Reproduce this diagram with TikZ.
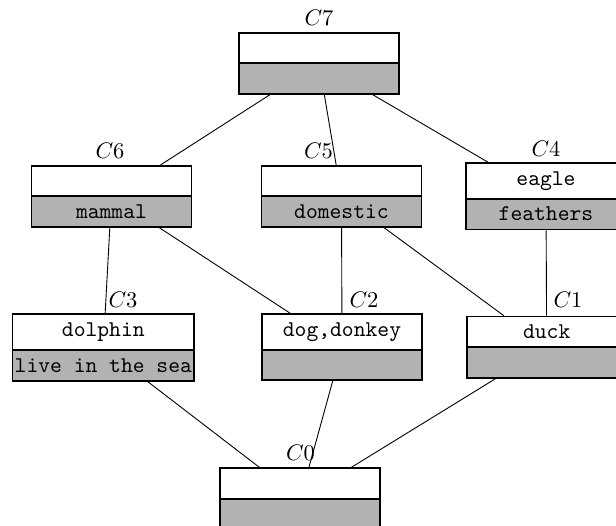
\documentclass[tikz,border=0pt]{standalone}
\usetikzlibrary{shapes.multipart}
% strut that gives an empty part the height of a line of text
\newcommand\vgap{\rule{0pt}{6.11pt}}
\begin{document}
\begin{tikzpicture}[x=0.4444pt,y=-0.4444pt,
  concept/.style={rectangle split, rectangle split parts=2, draw, thick,
    rectangle split part fill={white,black!30}, minimum width=2.5cm,
    inner xsep=1pt, inner ysep=3.33pt, font=\ttfamily},
  clabel/.style={inner sep=0pt},
  link/.style={draw, thin}]
\useasboundingbox (0,0) rectangle (616,526);
\clip (0,0) rectangle (616,526);

% concepts: extent (top part) and intent (bottom part)
\node[concept] (C7) at (319,63.2)   {\vgap \nodepart{two} \vgap};
\node[concept] (C6) at (111.5,196.4) {\vgap \nodepart{two} mammal};
\node[concept] (C5) at (341.5,196.4) {\vgap \nodepart{two} domestic};
\node[concept] (C4) at (546,196.2)  {eagle \nodepart{two} feathers};
\node[concept] (C3) at (103.3,347.5) {dolphin \nodepart{two} live in the sea};
\node[concept] (C2) at (342,347.2)  {dog,donkey \nodepart{two} \vgap};
\node[concept] (C1) at (546.7,347.2) {duck \nodepart{two} \vgap};
\node[concept] (C0) at (300.3,498.8) {\vgap \nodepart{two} \vgap};

% concept names
\node[clabel] (L7) at (319,18.3)   {$C7$};
\node[clabel] (L6) at (110,150.7)  {$C6$};
\node[clabel] (L5) at (318.5,150.7) {$C5$};
\node[clabel] (L4) at (546,149.3)  {$C4$};
\node[clabel] (L3) at (123,300)    {$C3$};
\node[clabel] (L2) at (364,300)    {$C2$};
\node[clabel] (L1) at (568,300)    {$C1$};
\node[clabel] (L0) at (300.5,453)  {$C0$};

% order relation
\draw[link] (C7) -- (C6);
\draw[link] (C7) -- (C5);
\draw[link] (C7) -- (C4);
\draw[link] (C6) -- (C3);
\draw[link] (C6) -- (C2);
\draw[link] (C5) -- (C2);
\draw[link] (C5) -- (C1);
\draw[link] (C4) -- (C1);
\draw[link] (C3) -- (C0);
\draw[link] (C2) -- (C0);
\draw[link] (C1) -- (C0);
\end{tikzpicture}
\end{document}
